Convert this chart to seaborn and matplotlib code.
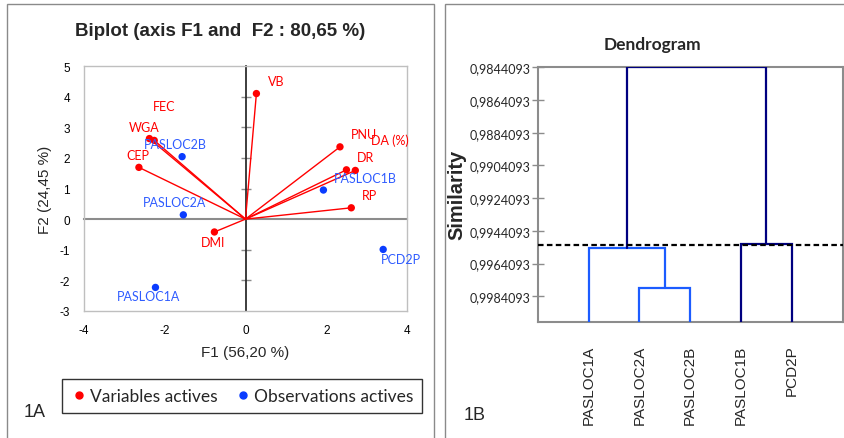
import numpy as np
import pandas as pd
import seaborn as sns
import matplotlib
matplotlib.use('Agg')
from matplotlib import pyplot as plt
from matplotlib.patches import Rectangle
from matplotlib.lines import Line2D

# Section 1: data

# Biplot - active variables (F1, F2)
var_names = ['VB', 'FEC', 'WGA', 'CEP', 'PNU', 'DA (%)', 'DR', 'RP', 'DMI']
var_f1 = [0.27, -2.26, -2.38, -2.64, 2.34, 2.72, 2.50, 2.62, -0.77]
var_f2 = [4.10, 2.57, 2.63, 1.69, 2.36, 1.59, 1.61, 0.37, -0.42]

# Biplot - active observations (F1, F2)
obs_names = ['PASLOC2B', 'PASLOC1B', 'PASLOC2A', 'PCD2P', 'PASLOC1A']
obs_f1 = [-1.57, 1.93, -1.54, 3.41, -2.23]
obs_f2 = [2.04, 0.95, 0.14, -0.99, -2.23]

# Dendrogram - leaves and merges (left child, right child, similarity)
leaves = ['PASLOC1A', 'PASLOC2A', 'PASLOC2B', 'PASLOC1B', 'PCD2P']
merge_left = [1, 0, 3, 6]
merge_right = [2, 5, 4, 7]
merge_sim = [0.99792, 0.99547, 0.99519, 0.9844093]
cut_level = 0.99529
sim_ticks = ['0,9844093', '0,9864093', '0,9884093', '0,9904093',
             '0,9924093', '0,9944093', '0,9964093', '0,9984093']

# label offsets in points (style only)
var_offsets = [(14, 9), (7, 25), (-4, 8), (-1, 9), (17, 9), (25, 22), (14, 9), (13, 9), (-1, -7)]
obs_offsets = [(-5, 9), (30, 9), (-6, 9), (13, -7), (-5, -6)]

# Section 2: figure

sns.set_theme(style='white')
plt.rcParams['font.family'] = ['Liberation Sans', 'DejaVu Sans']

fig = plt.figure(figsize=(8.45, 4.39), dpi=100)
W, H = 845, 439

red = '#ff0000'
blue = '#0a3cff'
blue_txt = '#2f5cff'
grey = '#bfbfbf'
axis_grey = '#8c8c8c'

# panel borders
fig.add_artist(Rectangle((7 / W, -0.05), (434 - 7) / W, (439 - 5) / H + 0.05,
                         transform=fig.transFigure, fill=False, ec='#8a8a8a', lw=1))
fig.add_artist(Rectangle((445 / W, -0.05), (850 - 445) / W, (439 - 5) / H + 0.05,
                         transform=fig.transFigure, fill=False, ec='#8a8a8a', lw=1))

# ---- Biplot ----
ax1 = fig.add_axes([84 / W, (H - 312) / H, 323 / W, 245 / H])

variables = pd.DataFrame({'F1': var_f1, 'F2': var_f2, 'name': var_names})
observations = pd.DataFrame({'F1': obs_f1, 'F2': obs_f2, 'name': obs_names})

for x, y in zip(var_f1, var_f2):
    ax1.plot([0, x], [0, y], color=red, lw=1, zorder=2)

sns.scatterplot(data=variables, x='F1', y='F2', color=red, s=28, edgecolor='none',
                ax=ax1, zorder=3, legend=False)
sns.scatterplot(data=observations, x='F1', y='F2', color=blue, s=28, edgecolor='none',
                ax=ax1, zorder=3, legend=False)

for (name, x, y), off in zip(variables[['name', 'F1', 'F2']].values, var_offsets):
    ax1.annotate(name, (x, y), xytext=off, textcoords='offset points', ha='center',
                 va='center', color=red, fontsize=9, family=['Lato', 'DejaVu Sans'])
for (name, x, y), off in zip(observations[['name', 'F1', 'F2']].values, obs_offsets):
    ax1.annotate(name, (x, y), xytext=off, textcoords='offset points', ha='center',
                 va='center', color=blue_txt, fontsize=9, family=['Lato', 'DejaVu Sans'])

ax1.set_xlim(-4, 4)
ax1.set_ylim(-3, 5)
ax1.set_xticks([-4, -2, 0, 2, 4])
ax1.set_yticks(range(-3, 6))
ax1.set_xticklabels([str(v) for v in [-4, -2, 0, 2, 4]])
ax1.set_yticklabels([str(v) for v in range(-3, 6)])
ax1.tick_params(length=0, labelsize=8.5, colors='black')
ax1.tick_params(axis='x', pad=9)
ax1.tick_params(axis='y', pad=10)
for sp in ax1.spines.values():
    sp.set_color(grey)
    sp.set_linewidth(1)

# zero axes with crossing ticks
vz = ax1.secondary_yaxis(0.5)
vz_ticks = [v for v in range(-2, 5) if v != 0]
vz.set_yticks(vz_ticks)
vz.set_yticklabels([''] * len(vz_ticks))
vz.tick_params(direction='inout', length=7, width=1, color=axis_grey)
vz.spines['left'].set_color(axis_grey)
vz.spines['left'].set_linewidth(1.5)
hz = ax1.secondary_xaxis(3 / 8)
hz.set_xticks([])
hz.spines['bottom'].set_color(axis_grey)
hz.spines['bottom'].set_linewidth(1.5)

ax1.set_xlabel('F1 (56,20 %)', fontsize=11)
ax1.set_ylabel('F2 (24,45 %)', fontsize=11)
ax1.xaxis.set_label_coords(0.5, -0.14)
ax1.yaxis.set_label_coords(-0.10, 0.5)

fig.text(220 / W, 1 - 32 / H, 'Biplot (axis F1 and  F2 : 80,65 %)', ha='center',
         va='center', fontsize=13.5, fontweight='bold')

handles = [Line2D([], [], marker='o', ls='', color=red, markersize=5),
           Line2D([], [], marker='o', ls='', color=blue, markersize=5)]
leg = fig.legend(handles, ['Variables actives', 'Observations actives'], ncol=2,
                 loc='center', bbox_to_anchor=(242 / W, 1 - 397 / H), frameon=True,
                 fancybox=False, edgecolor='black', handletextpad=0.1,
                 columnspacing=1.0, handlelength=1.0, borderpad=0.5,
                 prop={'family': ['Lato', 'DejaVu Sans'], 'size': 12.5})
leg.get_frame().set_linewidth(1)

fig.text(35 / W, 1 - 413 / H, '1A', ha='center', va='center', fontsize=13)

# ---- Dendrogram ----
ax2 = fig.add_axes([537.7 / W, (H - 323.3) / H, 305 / W, 255 / H])

n = len(leaves)
node_x = list(range(1, n + 1))
node_h = [1.0] * n
light = '#1c5cff'
navy = '#000080'
link_colors = [light, light, navy, navy]
for a, b, h, c in zip(merge_left, merge_right, merge_sim, link_colors):
    xa, xb = node_x[a], node_x[b]
    ha, hb = node_h[a], node_h[b]
    ax2.plot([xa, xa, xb, xb], [ha, h, h, hb], color=c, lw=1.6, zorder=3,
             solid_joinstyle='miter')
    node_x.append((xa + xb) / 2)
    node_h.append(h)

ax2.axhline(cut_level, color='black', lw=1.6, ls=(0, (2.5, 1.5)), zorder=4)

ax2.set_xlim(0, n + 1)
ax2.set_ylim(1.0, float(sim_ticks[0].replace(',', '.')))
ax2.set_yticks([float(t.replace(',', '.')) for t in sim_ticks])
ax2.set_yticklabels(sim_ticks, family=['Lato', 'DejaVu Sans'], fontsize=9)
ax2.set_xticks(range(1, n + 1))
ax2.set_xticklabels(leaves, rotation=90, fontsize=11, va='top')
ax2.tick_params(axis='x', length=0, pad=16)
ax2.tick_params(axis='y', direction='inout', length=8, width=1, color=axis_grey, pad=1)
ax2.yaxis.set_ticks_position('left')
for sp in ax2.spines.values():
    sp.set_color(axis_grey)
    sp.set_linewidth(1.5)

ax2.set_ylabel('Similarity', fontsize=14.5, fontweight='bold')
ax2.yaxis.set_label_coords(-0.235, 0.505)

fig.text(652 / W, 1 - 45 / H, 'Dendrogram', ha='center', va='center', fontsize=12.5,
         fontweight='bold', family=['Lato', 'DejaVu Sans'])
fig.text(475 / W, 1 - 415 / H, '1B', ha='center', va='center', fontsize=13)

fig.savefig('out.png', dpi=100)
